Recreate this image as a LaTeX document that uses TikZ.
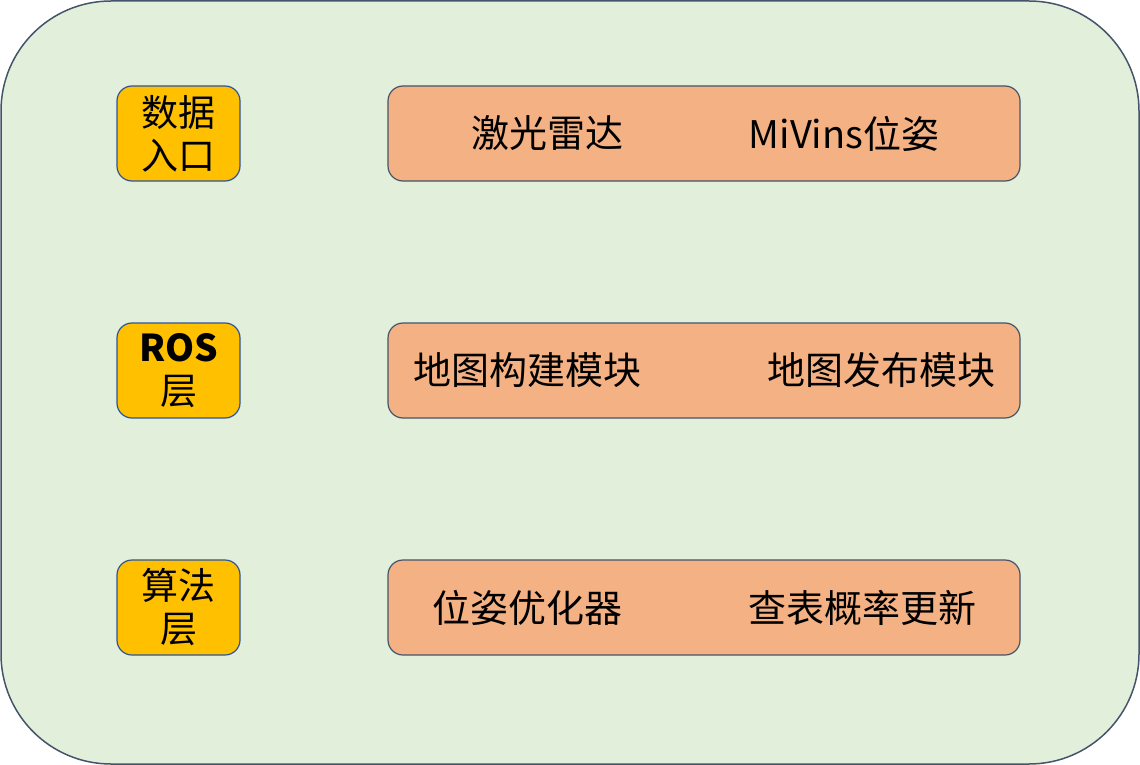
\documentclass[tikz,border=0pt]{standalone}
\usepackage{fontspec}
\setmainfont{Noto Sans CJK SC}
\definecolor{outerfill}{HTML}{E2EFDA}
\definecolor{outerline}{HTML}{44546A}
\definecolor{yfill}{HTML}{FFC000}
\definecolor{yline}{HTML}{2F5597}
\definecolor{ofill}{HTML}{F4B183}
\definecolor{oline}{HTML}{44546A}
\begin{document}
\begin{tikzpicture}[x=1pt,y=-1pt,
  outerbox/.style={draw=outerline,fill=outerfill,line width=1.5pt,rounded corners=110pt},
  labelbox/.style={draw=yline,fill=yfill,line width=1.2pt,rounded corners=15pt,minimum width=123pt,minimum height=95pt,inner sep=0pt,align=center,font=\fontsize{37}{43}\selectfont},
  rowbox/.style={draw=oline,fill=ofill,line width=1.2pt,rounded corners=15pt,minimum width=632pt,minimum height=95pt,inner sep=0pt},
  rowtext/.style={font=\fontsize{38}{44}\selectfont,inner sep=0pt}
]
\useasboundingbox (0,0) rectangle (1140,765);
\draw[outerbox] (1,1) rectangle (1139,764);
\node[labelbox] (l1) at (178.5,133.5) {数据\\入口};
\node[labelbox] (l2) at (178.5,370.5) {\textbf{ROS}\\层};
\node[labelbox] (l3) at (178.5,607.5) {算法\\层};
\node[rowbox] (r1) at (704,133.5) {};
\node[rowbox] (r2) at (704,370.5) {};
\node[rowbox] (r3) at (704,607.5) {};
\node[rowtext] (t11) at (547,133.5) {激光雷达};
\node[rowtext] (t12) at (844,133.5) {MiVins位姿};
\node[rowtext] (t21) at (527,370.5) {地图构建模块};
\node[rowtext] (t22) at (881,370.5) {地图发布模块};
\node[rowtext] (t31) at (527,607.5) {位姿优化器};
\node[rowtext] (t32) at (862,607.5) {查表概率更新};
\end{tikzpicture}
\end{document}
